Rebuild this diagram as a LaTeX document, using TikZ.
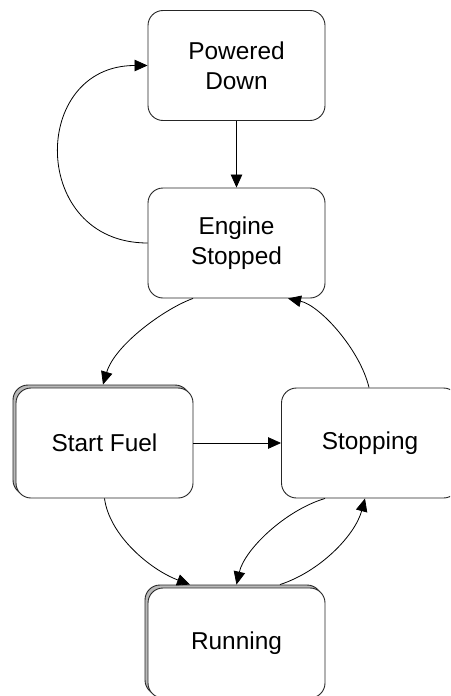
\documentclass[tikz,border=0pt]{standalone}
\usepackage{fontspec}
\setmainfont{Liberation Sans}
\usetikzlibrary{arrows.meta,shadows}
\begin{document}
\begin{tikzpicture}[x=1pt,y=-1pt,
  state/.style={draw=black!85, line width=0.9pt, fill=white, rounded corners=15pt,
    minimum width=177pt, minimum height=110pt, inner sep=0pt, align=center,
    font=\fontsize{24.4}{30}\selectfont},
  stack/.style={state, copy shadow={shadow xshift=-3pt, shadow yshift=3pt, fill=gray!55, draw=black!85}},
  conn/.style={line width=0.8pt, -{Triangle[length=13pt,width=11.5pt]}}]
\clip (0,0) rectangle (450,696);
\fill[white] (0,0) rectangle (450,696);
\node[state] (pd) at (236.5,65.5) {Powered\\Down};
\node[state] (es) at (236.5,243) {Engine\\Stopped};
\node[stack] (sf) at (104.5,443) {Start Fuel};
\node[state] (stop) at (370,443) {Stopping};
\node[stack] (run) at (236.5,643) {Running};
% connectors
\draw[conn] (pd.south) -- (es.north);
\draw[conn] (es.west) .. controls +(-118,0) and +(-118,0) .. (pd.west);
\draw[conn] ([xshift=-43.5pt]es.south) .. controls +(-28,10) and +(12,-40) .. ([xshift=-1.5pt,yshift=3pt]sf.north);
\draw[conn] ([xshift=-1pt]stop.north) .. controls +(-9,-38) and +(32,7) .. ([xshift=51.5pt]es.south);
\draw[conn] (sf.east) -- (stop.west);
\draw[conn] (sf.south) .. controls +(5,37) and +(-40,-15) .. ([xshift=-46.5pt,yshift=3pt]run.north);
\draw[conn] ([xshift=-45pt]stop.south) .. controls +(-40,12) and +(8,-35) .. ([yshift=3pt]run.north);
\draw[conn] ([xshift=43.5pt,yshift=3pt]run.north) .. controls +(40,-13) and +(-10,37) .. ([xshift=-5pt]stop.south);
\end{tikzpicture}
\end{document}
